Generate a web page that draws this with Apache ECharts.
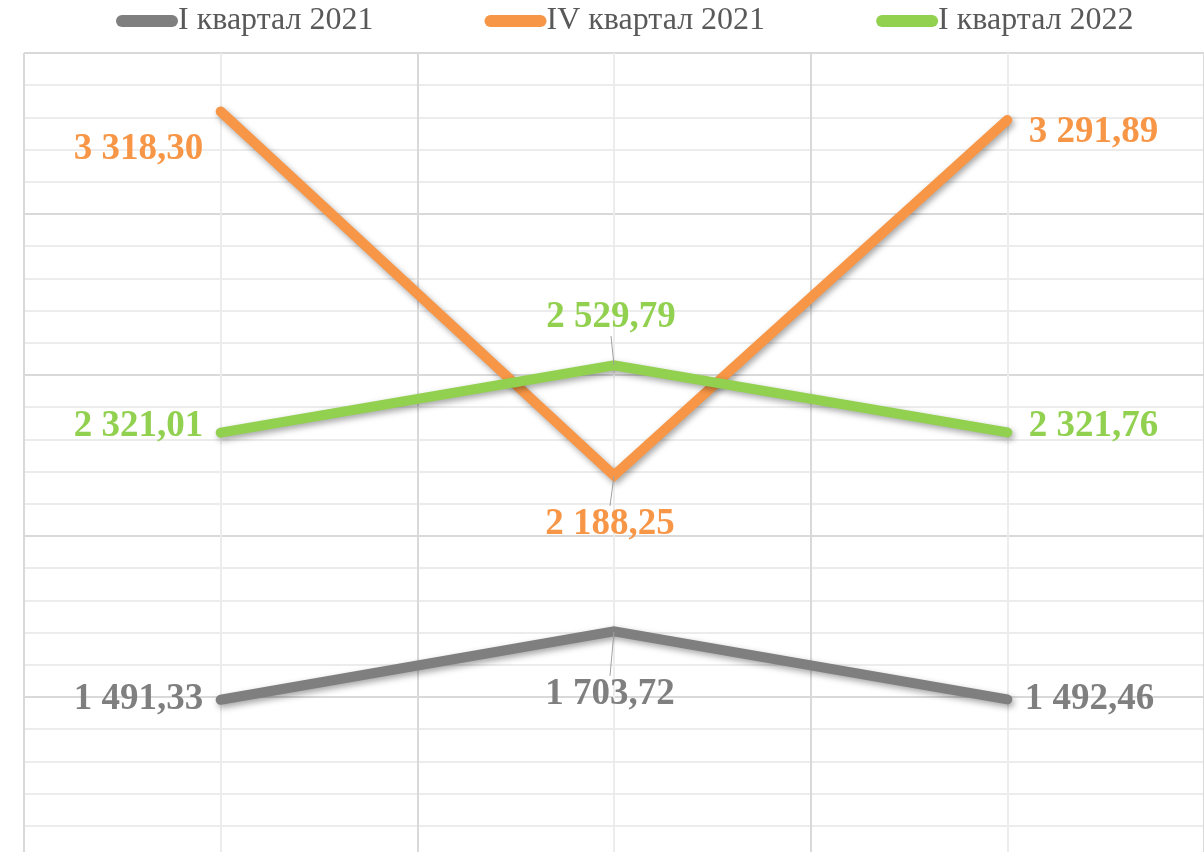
<html lang="ru">
  <head>
    <meta charset="utf-8" />
    <title>Квартальное сравнение</title>
    <script src="https://cdn.jsdelivr.net/npm/echarts@6/dist/echarts.min.js"></script>
    <style>
      body { margin: 0; background: #fff; }
    </style>
  </head>
  <body>
    <div id="main" style="width: 1204px;height:852px;"></div>
    <script type="text/javascript">
      // data
      var categories = ['Январь', 'Февраль', 'Март'];
      var seriesNames = ['I квартал 2021', 'IV квартал 2021', 'I квартал 2022'];
      var q1_2021 = [1491.33, 1703.72, 1492.46];
      var q4_2021 = [3318.30, 2188.25, 3291.89];
      var q1_2022 = [2321.01, 2529.79, 2321.76];
      var colors = ['#7f7f7f', '#f79646', '#92d050'];

      // label placement per series / point: [position, dx, dy, leader line]
      var labelPlace = [
        [['left', 0, 0, false], ['bottom', -4, 27, true], ['right', 0, 0, false]],
        [['left', 0, 38, false], ['bottom', -4, 13, true], ['right', 4, 12, false]],
        [['left', 0, -6, false], ['top', -3, -12, true], ['right', 4, -6, false]]
      ];

      function fmt(v) {
        var parts = v.toFixed(2).split('.');
        return parts[0].replace(/\B(?=(\d{3})+(?!\d))/g, ' ') + ',' + parts[1];
      }

      function buildSeries(idx, values) {
        return {
          name: seriesNames[idx],
          type: 'line',
          xAxisIndex: 0,
          symbol: 'circle',
          symbolSize: 1,
          showSymbol: true,
          data: values.map(function (v, i) {
            var p = labelPlace[idx][i];
            return {
              value: v,
              label: { position: p[0] },
              labelLine: { show: p[3] }
            };
          }),
          lineStyle: {
            color: colors[idx],
            width: 10,
            cap: 'round',
            join: 'miter',
            shadowColor: 'rgba(0,0,0,0.35)',
            shadowBlur: 6,
            shadowOffsetX: 2,
            shadowOffsetY: 3
          },
          itemStyle: { color: colors[idx] },
          label: {
            show: true,
            distance: 17,
            color: colors[idx],
            fontFamily: 'Liberation Serif',
            fontWeight: 'bold',
            fontSize: 37,
            formatter: function (p) { return fmt(p.value); }
          },
          labelLine: {
            show: false,
            lineStyle: { color: '#a0a0a0', width: 1 }
          },
          labelLayout: function (params) {
            var p = labelPlace[idx][params.dataIndex];
            return { dx: p[1], dy: p[2] };
          },
          emphasis: { disabled: true }
        };
      }

      var chartDom = document.getElementById('main');
      var myChart = echarts.init(chartDom);
      var option = {
        animation: false,
        color: colors,
        legend: {
          top: 0,
          left: 111,
          itemGap: 111,
          itemWidth: 62,
          itemHeight: 12,
          icon: 'path://M6,0 L56,0 A6,6 0 0 1 56,12 L6,12 A6,6 0 0 1 6,0 Z',
          textStyle: {
            fontFamily: 'Liberation Serif',
            fontSize: 32,
            color: '#595959',
            padding: [0, 0, 0, -5]
          },
          data: seriesNames
        },
        grid: { left: 24, top: 53, width: 1180, height: 805, outerBoundsMode: 'none' },
        xAxis: [
          {
            type: 'category',
            data: categories,
            boundaryGap: true,
            axisLine: { show: false },
            axisTick: { show: false },
            axisLabel: { show: false },
            splitLine: { show: false }
          },
          {
            type: 'value',
            min: 0,
            max: 6,
            interval: 2,
            axisLine: { show: false },
            axisTick: { show: false },
            axisLabel: { show: false },
            splitLine: { show: true, lineStyle: { color: '#d9d9d9', width: 2 } },
            minorTick: { show: false, splitNumber: 2 },
            minorSplitLine: { show: true, lineStyle: { color: '#ececec', width: 2 } }
          }
        ],
        yAxis: {
          type: 'value',
          min: 1000,
          max: 3500,
          interval: 500,
          axisLine: { show: false },
          axisTick: { show: false },
          axisLabel: { show: false },
          splitLine: { show: true, lineStyle: { color: '#d9d9d9', width: 2 } },
          minorTick: { show: false, splitNumber: 5 },
          minorSplitLine: { show: true, lineStyle: { color: '#ececec', width: 2 } }
        },
        series: [
          buildSeries(0, q1_2021),
          buildSeries(1, q4_2021),
          buildSeries(2, q1_2022)
        ]
      };
      myChart.setOption(option);
    </script>
  </body>
</html>
